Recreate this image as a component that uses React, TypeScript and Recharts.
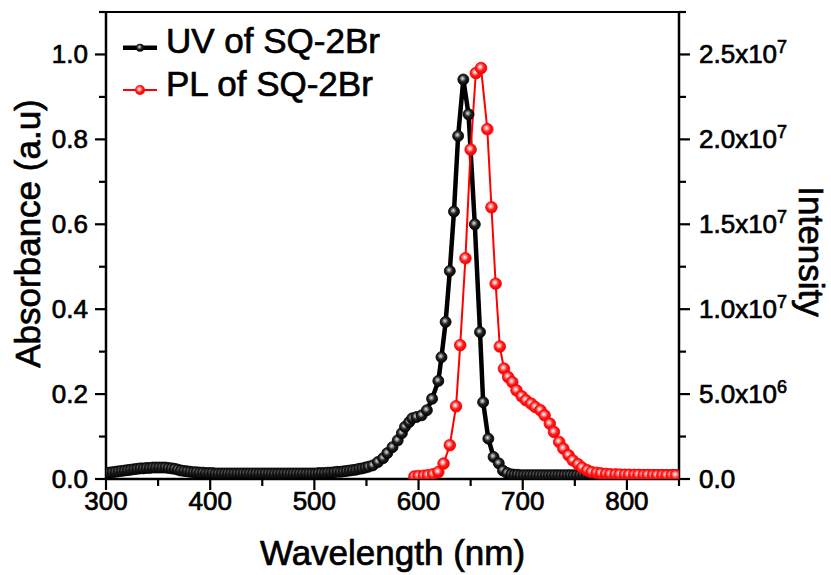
import { ComposedChart, Line, XAxis, YAxis, Legend, ReferenceLine } from "recharts";

const FONT = '"Liberation Sans", Arial, Helvetica, sans-serif';
// the reference type is a little heavier than Liberation regular
const HEAVY = { stroke: "#000", strokeWidth: 0.7, paintOrder: "stroke" } as const;

// UV-vis absorption of SQ-2Br (wavelength in nm, absorbance a.u.)
const uvNm = [
  300, 303, 306, 309, 312, 315, 318, 321, 324, 327, 330, 333, 336, 339, 342, 345, 348, 351, 354, 357,
  360, 363, 366, 369, 372, 375, 378, 381, 384, 387, 390, 393, 396, 399, 402, 405, 408, 411, 414, 417,
  420, 423, 426, 429, 432, 435, 438, 441, 444, 447, 450, 453, 456, 459, 462, 465, 468, 471, 474, 477,
  480, 483, 486, 489, 492, 495, 498, 501, 504, 507, 510, 513, 516, 519, 522, 525, 528, 531, 534, 537,
  540, 543, 546, 549, 552, 556, 561, 566, 570, 575, 580, 584, 587, 591, 594, 598, 603, 608, 613, 619,
  622, 626, 630, 634, 638, 643, 648, 654, 659, 662, 667, 672, 677, 681, 685, 689, 692, 695, 698, 701,
  704, 707, 710, 713, 716, 719, 722, 725, 728, 731, 734, 737, 740, 743, 746, 749, 752, 755, 758, 761,
  764, 767, 770, 773, 776, 779, 782, 785, 788, 791, 794, 797, 800, 803, 806, 809, 812, 815, 818, 821,
  824, 827, 830, 833, 836, 839, 842, 845, 848,
];
const uvAbs = [
  0.014, 0.015, 0.016, 0.017, 0.018, 0.019, 0.02, 0.021, 0.022, 0.023, 0.024, 0.025, 0.025, 0.026, 0.026, 0.027, 0.027, 0.027, 0.027, 0.027,
  0.026, 0.025, 0.024, 0.022, 0.02, 0.019, 0.018, 0.017, 0.016, 0.016, 0.015, 0.015, 0.014, 0.014, 0.014, 0.013, 0.013, 0.013, 0.013, 0.013,
  0.013, 0.013, 0.013, 0.013, 0.013, 0.013, 0.013, 0.013, 0.013, 0.013, 0.013, 0.013, 0.013, 0.013, 0.013, 0.013, 0.013, 0.013, 0.013, 0.013,
  0.013, 0.013, 0.013, 0.013, 0.013, 0.013, 0.013, 0.013, 0.014, 0.014, 0.014, 0.015, 0.015, 0.016, 0.017, 0.017, 0.018, 0.019, 0.02, 0.021,
  0.022, 0.024, 0.025, 0.027, 0.029, 0.032, 0.04, 0.049, 0.061, 0.075, 0.091, 0.108, 0.123, 0.134, 0.143, 0.146, 0.15, 0.162, 0.189, 0.231,
  0.287, 0.37, 0.49, 0.63, 0.808, 0.941, 0.859, 0.6, 0.346, 0.181, 0.095, 0.052, 0.037, 0.02, 0.014, 0.011, 0.01, 0.01, 0.009, 0.009,
  0.009, 0.009, 0.009, 0.009, 0.009, 0.009, 0.009, 0.009, 0.009, 0.009, 0.009, 0.009, 0.009, 0.009, 0.009, 0.009, 0.009, 0.009, 0.009, 0.009,
  0.009, 0.009, 0.009, 0.009, 0.009, 0.009, 0.009, 0.009, 0.009, 0.009, 0.009, 0.009, 0.009, 0.009, 0.009, 0.009, 0.009, 0.009, 0.009, 0.009,
  0.009, 0.009, 0.009, 0.009, 0.009, 0.009, 0.009, 0.009, 0.009,
];

// photoluminescence of SQ-2Br (intensity in units of 10^6)
const plNm = [
  596, 600, 605, 609, 614, 619, 624, 630, 636, 640, 645, 650, 655, 660, 666, 670, 674, 678, 682, 686,
  690, 694, 699, 703, 708, 712, 717, 721, 726, 730, 735, 739, 744, 748, 753, 757, 762, 766, 771, 775,
  780, 784, 789, 793, 798, 802, 807, 811, 816, 820, 825, 829, 834, 838, 843, 847,
];
const plIntensity = [
  0.15, 0.18, 0.19, 0.22, 0.28, 0.41, 0.91, 1.99, 4.28, 7.88, 13.0, 19.4, 23.9, 24.2, 20.6, 16.0, 11.5, 7.8, 6.5, 6.0,
  5.71, 5.22, 4.87, 4.64, 4.44, 4.24, 4.05, 3.75, 3.26, 2.77, 2.18, 1.79, 1.4, 1.1, 0.87, 0.67, 0.51, 0.41, 0.36, 0.33,
  0.3, 0.28, 0.27, 0.26, 0.25, 0.25, 0.24, 0.24, 0.23, 0.23, 0.22, 0.22, 0.22, 0.21, 0.21, 0.21,
];

const wavelengthTicks = [300, 350, 400, 450, 500, 550, 600, 650, 700, 750, 800, 850];
const absTicks = [0, 0.1, 0.2, 0.3, 0.4, 0.5, 0.6, 0.7, 0.8, 0.9, 1.0, 1.1];
const intensityTicks = [0, 2.5, 5, 7.5, 10, 12.5, 15, 17.5, 20, 22.5, 25, 27.5];

const uvData = uvNm.map((nm, i) => ({ nm, abs: uvAbs[i] }));
const plData = plNm.map((nm, i) => ({ nm, pl: plIntensity[i] }));

const XTick = (props: any) => {
  const { x, y, payload } = props;
  const v = payload.value;
  const major = v % 100 === 0;
  return (
    <g>
      <line x1={x} x2={x} y1={y} y2={y + (major ? 11 : 7)} stroke="#000" strokeWidth={2.2} />
      {major && (
        <text x={x} y={y + 31} textAnchor="middle" fontSize={26} fontFamily={FONT} fill="#000" {...HEAVY}>
          {v}
        </text>
      )}
    </g>
  );
};

const AbsTick = (props: any) => {
  const { x, y, payload } = props;
  const v = payload.value;
  const major = Math.round(v * 10) % 2 === 0;
  return (
    <g>
      <line x1={x} x2={x - (major ? 11 : 7)} y1={y} y2={y} stroke="#000" strokeWidth={2.2} />
      {major && (
        <text x={x - 18} y={y + 9} textAnchor="end" fontSize={26} fontFamily={FONT} fill="#000" {...HEAVY}>
          {v.toFixed(1)}
        </text>
      )}
    </g>
  );
};

const IntensityTick = (props: any) => {
  const { x, y, payload } = props;
  const v = payload.value;
  const major = Math.round(v * 2) % 2 === 0;
  let label = null;
  if (major) {
    if (v === 0) {
      label = "0.0";
    } else {
      const exp = Math.floor(Math.log10(v)) + 6;
      const mant = v / Math.pow(10, exp - 6);
      label = (
        <>
          {`${mant.toFixed(1)}x10`}
          <tspan dy={-10} fontSize={18}>
            {exp}
          </tspan>
        </>
      );
    }
  }
  return (
    <g>
      <line x1={x} x2={x + (major ? 11 : 7)} y1={y} y2={y} stroke="#000" strokeWidth={2.2} />
      {label && (
        <text x={x + 20} y={y + 9} textAnchor="start" fontSize={26} fontFamily={FONT} fill="#000" {...HEAVY}>
          {label}
        </text>
      )}
    </g>
  );
};

const uvDot = (props: any) => (
  <circle key={`uv-${props.index}`} cx={props.cx} cy={props.cy} r={5.5} fill="url(#uvBall)" stroke="#000" strokeWidth={0.8} />
);
const plDot = (props: any) => (
  <circle key={`pl-${props.index}`} cx={props.cx} cy={props.cy} r={5.8} fill="url(#plBall)" stroke="#ff0000" strokeWidth={0.8} />
);

const renderLegend = () => (
  <svg width={330} height={90} style={{ display: "block", overflow: "visible" }}>
    <line x1={13} x2={47} y1={27.7} y2={27.7} stroke="#000" strokeWidth={4.5} />
    <circle cx={30} cy={27.7} r={4} fill="url(#uvBall)" />
    <text x={56} y={32.7} fontSize={35} fontFamily={FONT} fill="#000" {...HEAVY}>
      UV of SQ-2Br
    </text>
    <line x1={13} x2={47} y1={70} y2={70} stroke="#ff0000" strokeWidth={2} />
    <circle cx={30} cy={70} r={5} fill="url(#plBall)" />
    <text x={56} y={75.7} fontSize={35} fontFamily={FONT} fill="#000" {...HEAVY}>
      PL of SQ-2Br
    </text>
  </svg>
);

export default function App() {
  return (
    <div style={{ position: "absolute", left: 0, top: 0, background: "#fff", fontFamily: FONT }}>
      <ComposedChart width={831} height={575} margin={{ top: 12, right: 0, bottom: 0, left: 0 }}>
        <defs>
          <radialGradient id="uvBall" cx="0.45" cy="0.42" r="0.6" fx="0.42" fy="0.4">
            <stop offset="0" stopColor="#e6e6e6" />
            <stop offset="0.2" stopColor="#9a9a9a" />
            <stop offset="0.5" stopColor="#222222" />
            <stop offset="1" stopColor="#000000" />
          </radialGradient>
          <radialGradient id="plBall" cx="0.45" cy="0.42" r="0.6" fx="0.42" fy="0.4">
            <stop offset="0" stopColor="#ffffff" />
            <stop offset="0.25" stopColor="#ffa0a0" />
            <stop offset="0.55" stopColor="#ff1a1a" />
            <stop offset="1" stopColor="#f00000" />
          </radialGradient>
        </defs>
        <XAxis
          dataKey="nm"
          type="number"
          domain={[300, 850]}
          ticks={wavelengthTicks}
          interval={0}
          height={96}
          tickSize={0}
          tickMargin={0}
          tickLine={false}
          tick={XTick}
          axisLine={{ stroke: "#000", strokeWidth: 2.5 }}
          allowDataOverflow
          label={(p: any) => {
            const vb = p.viewBox;
            return (
              <text x={vb.x + vb.width / 2} y={vb.y + 86} textAnchor="middle" fontSize={35} fontFamily={FONT} fill="#000" {...HEAVY}>
                Wavelength (nm)
              </text>
            );
          }}
        />
        <YAxis
          yAxisId="abs"
          type="number"
          domain={[0, 1.1]}
          ticks={absTicks}
          interval={0}
          width={106}
          tickSize={0}
          tickMargin={0}
          tickLine={false}
          tick={AbsTick}
          axisLine={{ stroke: "#000", strokeWidth: 2.5 }}
          allowDataOverflow
          label={(p: any) => {
            const vb = p.viewBox;
            const cx = vb.x + 40;
            const cy = vb.y + vb.height / 2 - 12;
            return (
              <text x={cx} y={cy} transform={`rotate(-90 ${cx} ${cy})`} textAnchor="middle" fontSize={35} fontFamily={FONT} fill="#000" {...HEAVY}>
                Absorbance (a.u)
              </text>
            );
          }}
        />
        <YAxis
          yAxisId="pl"
          orientation="right"
          type="number"
          domain={[0, 27.5]}
          ticks={intensityTicks}
          interval={0}
          width={152}
          tickSize={0}
          tickMargin={0}
          tickLine={false}
          tick={IntensityTick}
          axisLine={{ stroke: "#000", strokeWidth: 2.5 }}
          allowDataOverflow
          label={(p: any) => {
            const vb = p.viewBox;
            const cx = vb.x + 120;
            const cy = vb.y + vb.height / 2 + 6;
            return (
              <text x={cx} y={cy} transform={`rotate(90 ${cx} ${cy})`} textAnchor="middle" fontSize={35} fontFamily={FONT} fill="#000" {...HEAVY}>
                Intensity
              </text>
            );
          }}
        />
        <ReferenceLine yAxisId="abs" y={1.1} stroke="#000" strokeWidth={2} />
        <Legend
          layout="vertical"
          align="center"
          verticalAlign="middle"
          wrapperStyle={{ left: 110, top: 20, width: 330, height: 90 }}
          content={renderLegend}
        />
        <Line
          yAxisId="abs"
          data={uvData}
          dataKey="abs"
          type="linear"
          stroke="#000"
          strokeWidth={4.5}
          dot={uvDot}
          activeDot={false}
          isAnimationActive={false}
        />
        <Line
          yAxisId="pl"
          data={plData}
          dataKey="pl"
          type="linear"
          stroke="#ff0000"
          strokeWidth={2}
          dot={plDot}
          activeDot={false}
          isAnimationActive={false}
        />
      </ComposedChart>
    </div>
  );
}
